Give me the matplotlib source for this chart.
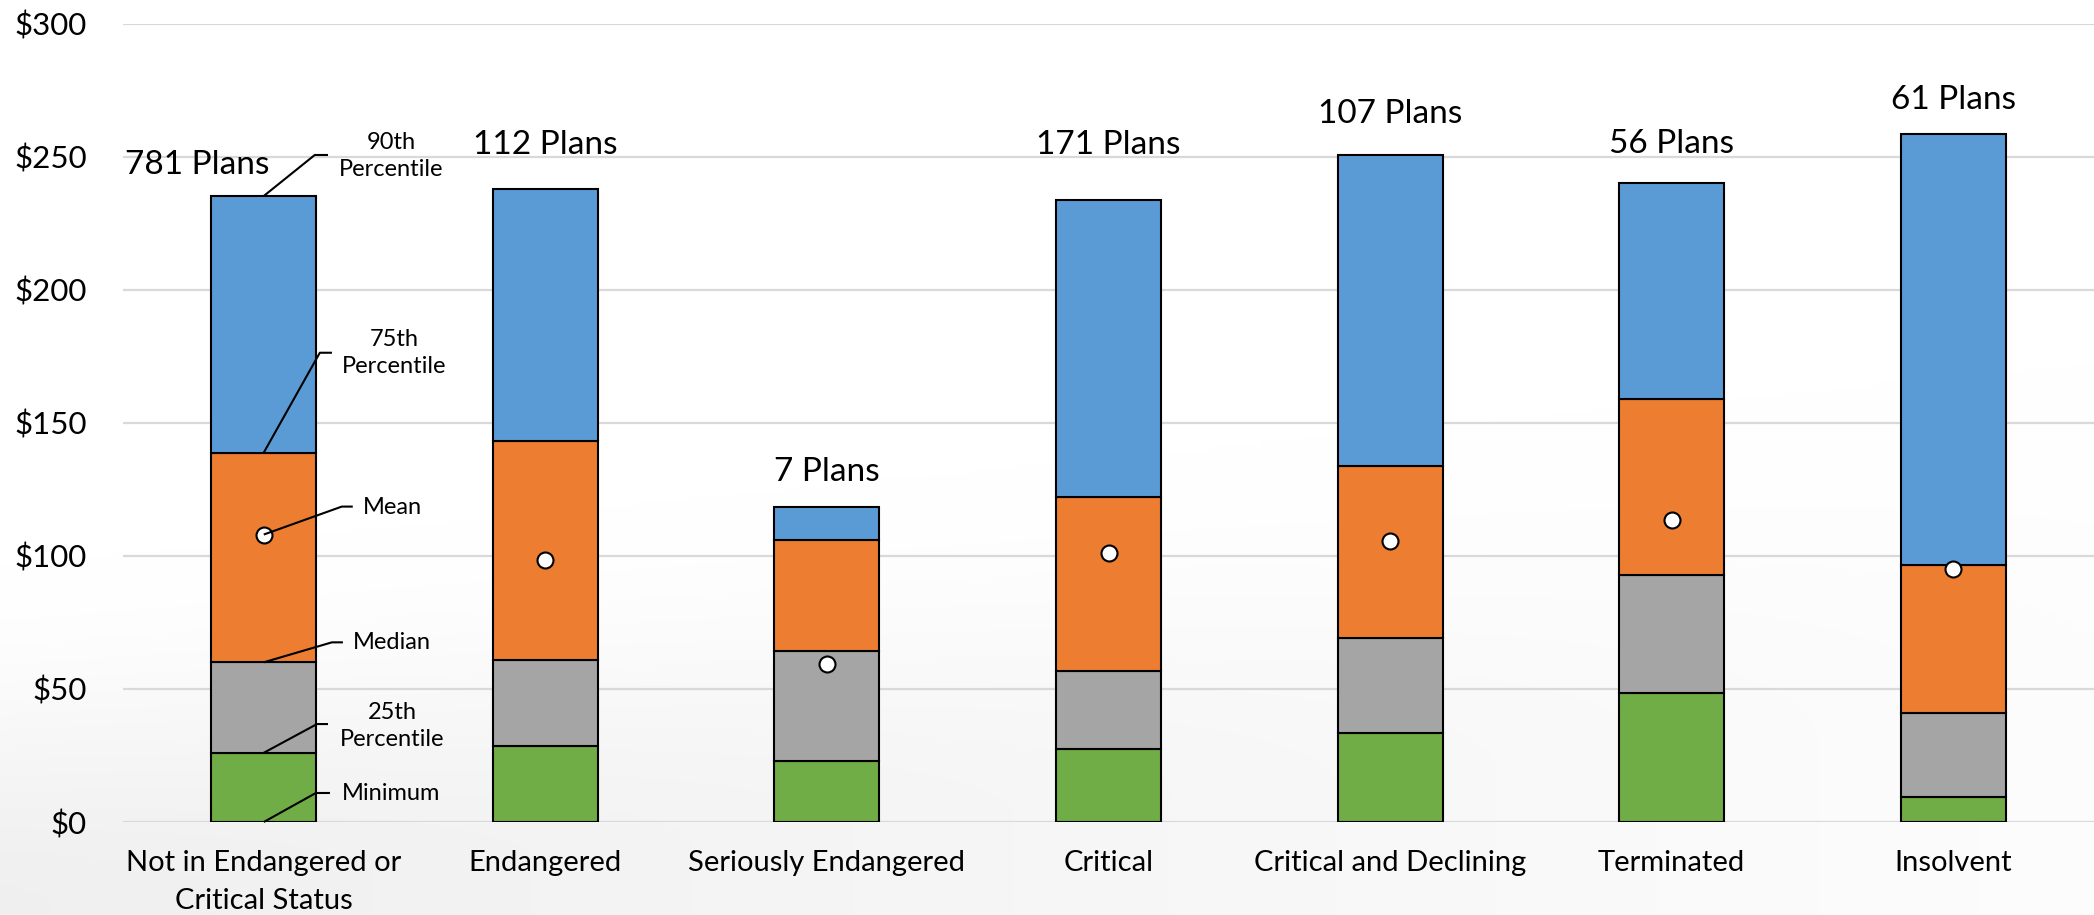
import numpy as np
import matplotlib
matplotlib.use("Agg")
import matplotlib.pyplot as plt

plt.rcParams['font.family'] = ['Lato', 'DejaVu Sans']

# ---------------- data ----------------
categories = ["Not in Endangered or\nCritical Status", "Endangered", "Seriously Endangered",
              "Critical", "Critical and Declining", "Terminated", "Insolvent"]
plan_counts = [781, 112, 7, 171, 107, 56, 61]
minimum = [0, 0, 0, 0, 0, 0, 0]
p25 = [26.0, 28.5, 22.8, 27.6, 33.5, 48.4, 9.3]
median = [60.0, 61.0, 64.4, 56.8, 69.0, 92.7, 40.9]
p75 = [138.8, 143.2, 105.9, 122.2, 133.9, 158.9, 96.7]
p90 = [235.2, 237.7, 118.5, 233.7, 250.5, 240.0, 258.3]
mean = [108.0, 98.3, 59.3, 100.9, 105.4, 113.4, 94.9]
yticks = [0, 50, 100, 150, 200, 250, 300]
ytick_labels = ["$0", "$50", "$100", "$150", "$200", "$250", "$300"]

# layout for the "N Plans" labels (x offset from bar centre, baseline y)
count_label_dx = [-0.238, 0, 0, 0, 0, 0, 0]
count_label_y = [243.4, 250.9, 128.3, 251.0, 262.6, 251.3, 267.8]

blue = "#5B9BD5"
orange = "#ED7D31"
gray = "#A5A5A5"
green = "#70AD47"

W, H = 2094, 915
fig = plt.figure(figsize=(W / 100, H / 100), dpi=100)

# subtle background swoosh
bg = fig.add_axes([0, 0, 1, 1], zorder=-10)
u = np.linspace(0, 1, 400)[None, :]
v = np.linspace(0, 1, 200)[:, None]  # 0 top, 1 bottom
t = np.clip((v - 0.62 + 0.22 * u) / 0.38, 0, 1)
t = t * t * (3 - 2 * t)
shade = 1 - 0.06 * t * (1 - 0.85 * u)
img = np.dstack([shade, shade, shade])
bg.imshow(img, aspect='auto', extent=[0, 1, 0, 1], interpolation='bilinear')
bg.set_axis_off()

ax = fig.add_axes([123 / W, (H - 822) / H, 1 - 123 / W, (822 - 23.5) / H])
ax.set_facecolor('none')

x = np.arange(len(categories))
bw = 0.373
p25a = np.array(p25); meda = np.array(median); p75a = np.array(p75); p90a = np.array(p90)
mina = np.array(minimum)
kw = dict(width=bw, edgecolor='black', linewidth=1.5, zorder=3)
ax.bar(x, p25a - mina, bottom=mina, color=green, **kw)
ax.bar(x, meda - p25a, bottom=p25a, color=gray, **kw)
ax.bar(x, p75a - meda, bottom=meda, color=orange, **kw)
ax.bar(x, p90a - p75a, bottom=p75a, color=blue, **kw)
ax.plot(x, mean, linestyle='none', marker='o', markersize=11.5, markerfacecolor='white',
        markeredgecolor='black', markeredgewidth=1.5, zorder=5)

for i, n in enumerate(plan_counts):
    ax.text(x[i] + count_label_dx[i], count_label_y[i], f"{n} Plans", ha='center',
            va='baseline', fontsize=24, zorder=6)

ax.set_xlim(-0.5, len(categories) - 0.5)
ax.set_ylim(0, 300)
ax.set_yticks(yticks)
ax.set_yticklabels(ytick_labels, fontsize=22.5)
ax.set_xticks(x)
ax.set_xticklabels(categories, fontsize=21, linespacing=1.6)
ax.tick_params(axis='both', length=0)
ax.tick_params(axis='y', pad=26)
ax.tick_params(axis='x', pad=20)
ax.yaxis.grid(True, color='#D9D9D9', linewidth=1.6, zorder=0)
ax.set_axisbelow(True)
for s in ax.spines.values():
    s.set_visible(False)

# leader-line annotations for the first bar
i0 = 0
notes = [
    ("90th\nPercentile", p90[i0], 0.181, 250.6, 0.228, 0.453, 250.2),
    ("75th\nPercentile", p75[i0], 0.199, 176.3, 0.242, 0.462, 176.3),
    ("Mean", mean[i0], 0.277, 118.5, 0.316, 0.458, 118.3),
    ("Median", median[i0], 0.242, 67.5, 0.281, 0.456, 67.5),
    ("25th\nPercentile", p25[i0], 0.189, 36.8, 0.228, 0.455, 36.0),
    ("Minimum", minimum[i0], 0.185, 10.9, 0.235, 0.451, 10.6),
]
for label, yv, ex, ey, endx, tx, ty in notes:
    ax.plot([x[i0], x[i0] + ex, x[i0] + endx], [yv, ey, ey], color='black',
            linewidth=1.5, zorder=6, clip_on=False, solid_capstyle='butt')
    ax.text(x[i0] + tx, ty, label, ha='center', va='center', fontsize=17,
            linespacing=1.35, zorder=6)

fig.savefig("out.png", dpi=100)
